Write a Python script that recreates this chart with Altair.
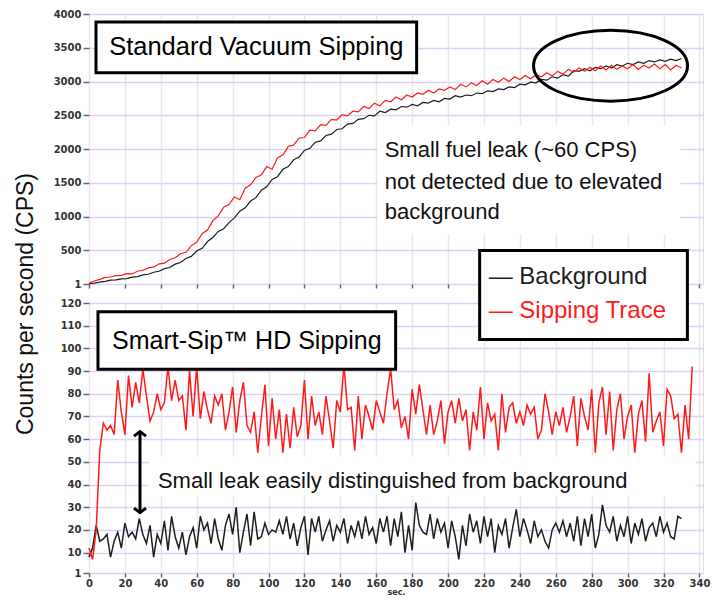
import altair as alt
import pandas as pd

# ---------------- data ----------------
top_step = 3  # seconds between samples, upper panel
top_background = [5, 15, 30, 40, 58, 62, 78, 82, 103, 110,
                  135, 145, 175, 190, 228, 245, 295, 320, 380, 410,
                  490, 530, 630, 690, 780, 820, 910, 980, 1080, 1130,
                  1230, 1280, 1390, 1440, 1550, 1590, 1700, 1740, 1840, 1880,
                  1980, 2010, 2100, 2120, 2200, 2220, 2290, 2300, 2370, 2380,
                  2440, 2450, 2500, 2490, 2560, 2540, 2590, 2580, 2630, 2620,
                  2660, 2640, 2690, 2680, 2720, 2700, 2750, 2740, 2790, 2770,
                  2800, 2790, 2830, 2820, 2860, 2850, 2890, 2880, 2920, 2910,
                  2960, 2950, 2990, 2980, 3030, 3020, 3070, 3050, 3100, 3080,
                  3160, 3150, 3190, 3160, 3210, 3190, 3230, 3200, 3250, 3230,
                  3270, 3250, 3290, 3270, 3310, 3290, 3320, 3300, 3330, 3310, 3340]
top_sipping = [15, 45, 70, 100, 105, 125, 130, 155, 150, 190,
               205, 240, 250, 300, 310, 365, 390, 450, 470, 570,
               620, 745, 800, 940, 1010, 1140, 1180, 1290, 1250, 1420,
               1470, 1580, 1620, 1740, 1700, 1870, 1910, 2040, 2060, 2160,
               2170, 2280, 2270, 2360, 2350, 2440, 2430, 2510, 2490, 2560,
               2550, 2630, 2600, 2680, 2640, 2720, 2700, 2770, 2730, 2800,
               2770, 2830, 2810, 2870, 2830, 2890, 2870, 2920, 2880, 2960,
               2920, 2980, 2940, 3010, 2960, 3030, 2990, 3050, 3000, 3070,
               3030, 3090, 3040, 3100, 3070, 3130, 3080, 3150, 3110, 3180,
               3140, 3200, 3150, 3210, 3160, 3230, 3170, 3240, 3180, 3230,
               3190, 3250, 3180, 3240, 3200, 3260, 3190, 3250, 3170, 3240, 3200]

bot_step = 2  # seconds between samples, lower panel
bot_background = [8, 12, 22, 15, 16, 18, 8, 15, 19, 12,
                  23, 17, 19, 16, 25, 18, 14, 22, 8, 18,
                  14, 24, 11, 26, 17, 12, 19, 9, 17, 21,
                  12, 26, 20, 23, 14, 25, 16, 11, 22, 27,
                  18, 30, 10, 19, 27, 13, 28, 16, 17, 23,
                  18, 20, 19, 24, 18, 26, 16, 23, 13, 21,
                  26, 9, 25, 19, 26, 15, 20, 24, 15, 22,
                  19, 25, 14, 22, 17, 24, 16, 26, 18, 21,
                  14, 25, 19, 26, 13, 25, 17, 28, 10, 22,
                  11, 32, 22, 19, 18, 27, 16, 25, 19, 23,
                  12, 24, 17, 7, 22, 13, 27, 19, 24, 14,
                  26, 17, 25, 10, 22, 18, 25, 12, 21, 29,
                  17, 25, 20, 14, 24, 17, 20, 15, 12, 20,
                  23, 19, 24, 17, 23, 15, 26, 13, 25, 17,
                  27, 12, 18, 31, 22, 19, 26, 15, 22, 17,
                  26, 14, 23, 18, 25, 15, 21, 23, 17, 26,
                  19, 23, 17, 16, 26, 25]
bot_sipping = [12, 7, 20, 55, 67, 64, 66, 62, 86, 72,
               62, 88, 74, 85, 76, 91, 79, 68, 72, 80,
               73, 76, 92, 77, 86, 77, 79, 64, 90, 70,
               92, 69, 81, 73, 67, 79, 75, 80, 64, 72,
               83, 63, 77, 85, 66, 63, 72, 54, 70, 84,
               57, 78, 60, 73, 54, 71, 56, 74, 61, 66,
               86, 60, 79, 66, 72, 62, 79, 68, 56, 77,
               72, 93, 73, 74, 55, 79, 60, 75, 70, 64,
               77, 72, 67, 80, 91, 73, 77, 65, 70, 60,
               82, 71, 84, 73, 62, 75, 62, 68, 77, 58,
               72, 77, 67, 78, 68, 73, 55, 72, 64, 83,
               60, 76, 68, 71, 55, 80, 63, 74, 76, 67,
               72, 66, 75, 71, 74, 60, 64, 80, 72, 62,
               72, 66, 74, 63, 70, 79, 57, 78, 70, 64,
               82, 54, 76, 83, 62, 81, 55, 73, 80, 60,
               70, 75, 54, 71, 77, 59, 89, 63, 68, 72,
               57, 82, 79, 69, 71, 54, 75, 60, 92]

series_names = ["Background", "Sipping Trace"]
series_colors = ["#1e1e1e", "#ff1a1a"]
x_ticks = list(range(0, 341, 20))
top_y_ticks = [1, 500, 1000, 1500, 2000, 2500, 3000, 3500, 4000]
bot_y_ticks = [1, 10, 20, 30, 40, 50, 60, 70, 80, 90, 100, 110, 120]

FONT = "Liberation Sans, Arial, sans-serif"
TICKFONT = "DejaVu Sans"


def long_frame(bg, sp, step):
    rows = []
    for name, vals in zip(series_names, [bg, sp]):
        for i, v in enumerate(vals):
            rows.append({"t": i * step, "cps": v, "series": name})
    return pd.DataFrame(rows)


top_df = long_frame(top_background, top_sipping, top_step)
bot_df = long_frame(bot_background, bot_sipping, bot_step)

W, H = 614, 270
xscale = alt.Scale(domain=[0, 342], nice=False, zero=False)
top_yscale = alt.Scale(domain=[1, 4000], nice=False, zero=False)
bot_yscale = alt.Scale(domain=[1, 120], nice=False, zero=False)
color = alt.Color("series:N", scale=alt.Scale(domain=series_names, range=series_colors), legend=None)


def y_axis(vals):
    return alt.Axis(values=vals, title=None, grid=True, gridColor="#d9d3f7", gridWidth=1.5,
                    format="d", labelOverlap=False, labelSeparation=0,
                    labelFont=TICKFONT, labelFontWeight="bold", labelFontSize=10,
                    labelColor="#333333", tickColor="#666666", tickSize=6, tickWidth=1.5,
                    labelPadding=2, domain=False)


top_xaxis = alt.Axis(values=x_ticks, labels=False, title=None, grid=True, gridColor="#e8e8e8",
                     gridWidth=1.5, tickColor="#666666", tickSize=4, tickWidth=1.5, domain=False)
bot_xaxis = alt.Axis(values=x_ticks, title="sec.", grid=True, gridColor="#e8e8e8", gridWidth=1.5,
                     tickColor="#666666", tickSize=4, tickWidth=1.5, domain=False,
                     format="d", labelOverlap=False, labelSeparation=0, labelFlush=False,
                     labelFont=TICKFONT, labelFontWeight="bold", labelFontSize=10,
                     labelColor="#333333", labelPadding=1,
                     titleFont=TICKFONT, titleFontWeight="bold", titleFontSize=8,
                     titleColor="#333333", titlePadding=0)

top_yaxis = y_axis(top_y_ticks)
bot_yaxis = y_axis(bot_y_ticks)


def ax(field, scale, axis):
    # every layer of a panel carries the same scale and axis definition
    return alt.X(field, type="quantitative", scale=scale, axis=axis)


def ay(field, scale, axis):
    return alt.Y(field, type="quantitative", scale=scale, axis=axis)


# ---------------- upper panel ----------------
TX = dict(scale=xscale, axis=top_xaxis)
TY = dict(scale=top_yscale, axis=top_yaxis)

top_lines = alt.Chart(top_df).mark_line(strokeWidth=1.2).encode(
    x=ax("t", **TX), y=ay("cps", **TY), color=color, detail="series:N")

top_note_bg = pd.DataFrame({"x": [160.8], "x2": [329.4], "y": [2352], "y2": [735]})
top_note_rect = alt.Chart(top_note_bg).mark_rect(fill="white").encode(
    x=ax("x", **TX), x2="x2:Q", y=ay("y", **TY), y2="y2:Q")

top_box = pd.DataFrame({"x": [3.9], "x2": [182.5], "y": [3881], "y2": [3131]})
top_box_rect = alt.Chart(top_box).mark_rect(fill="white", stroke="black", strokeWidth=3).encode(
    x=ax("x", **TX), x2="x2:Q", y=ay("y", **TY), y2="y2:Q")
top_title = pd.DataFrame({"x": [93.2], "y": [3513], "label": ["Standard Vacuum Sipping"]})
top_title_text = alt.Chart(top_title).mark_text(font=FONT, fontSize=25.5, color="black",
                                                align="center", baseline="middle").encode(
    x=ax("x", **TX), y=ay("y", **TY), text="label:N")

top_note = pd.DataFrame({"x": [164.7, 164.7, 164.7], "y": [1985, 1514, 1073],
                         "label": ["Small fuel leak (~60 CPS)", "not detected due to elevated",
                                   "background"]})
top_note_text = alt.Chart(top_note).mark_text(font=FONT, fontSize=22, color="#111111",
                                              align="left", baseline="middle").encode(
    x=ax("x", **TX), y=ay("y", **TY), text="label:N")

ellipse = pd.DataFrame({"x": [290.5], "y": [3234]})
ELLIPSE_PATH = ("M -1 0 C -1 -0.254 -0.552 -0.46 0 -0.46 C 0.552 -0.46 1 -0.254 1 0 "
                "C 1 0.254 0.552 0.46 0 0.46 C -0.552 0.46 -1 0.254 -1 0 Z")
ellipse_mark = alt.Chart(ellipse).mark_point(
    shape=ELLIPSE_PATH, size=154 * 154, filled=False, stroke="black", strokeWidth=3,
    opacity=1).encode(x=ax("x", **TX), y=ay("y", **TY))

top = alt.layer(top_note_rect, top_lines, top_box_rect, top_title_text, top_note_text,
                ellipse_mark).properties(width=W, height=H)

# ---------------- lower panel ----------------
BX = dict(scale=xscale, axis=bot_xaxis)
BY = dict(scale=bot_yscale, axis=bot_yaxis)

bot_lines = alt.Chart(bot_df).mark_line(strokeWidth=1.5).encode(
    x=ax("t", **BX), y=ay("cps", **BY), color=color, detail="series:N")

bot_note_bg = pd.DataFrame({"x": [33.4], "x2": [337.8], "y": [52.4], "y2": [35.0]})
bot_note_rect = alt.Chart(bot_note_bg).mark_rect(fill="white").encode(
    x=ax("x", **BX), x2="x2:Q", y=ay("y", **BY), y2="y2:Q")

bot_box = pd.DataFrame({"x": [5.0], "x2": [170.8], "y": [116.1], "y2": [90.8]})
bot_box_rect = alt.Chart(bot_box).mark_rect(fill="white", stroke="black", strokeWidth=3).encode(
    x=ax("x", **BX), x2="x2:Q", y=ay("y", **BY), y2="y2:Q")
bot_title = pd.DataFrame({"x": [87.9], "y": [103.4], "label": ["Smart-Sip™ HD Sipping"]})
bot_title_text = alt.Chart(bot_title).mark_text(font=FONT, fontSize=25, color="black",
                                                align="center", baseline="middle").encode(
    x=ax("x", **BX), y=ay("y", **BY), text="label:N")

bot_note = pd.DataFrame({"x": [38.4], "y": [41.5],
                         "label": ["Small leak easily distinguished from background"]})
bot_note_text = alt.Chart(bot_note).mark_text(font=FONT, fontSize=22, color="#111111",
                                              align="left", baseline="middle").encode(
    x=ax("x", **BX), y=ay("y", **BY), text="label:N")

arrow = pd.DataFrame({"x": [28.4], "y": [27.6], "y2": [63.3]})
arrow_rule = alt.Chart(arrow).mark_rule(color="black", strokeWidth=3).encode(
    x=ax("x", **BX), y=ay("y", **BY), y2="y2:Q")
arrow_heads = pd.DataFrame({"x": [28.4, 28.4], "y": [63.3, 27.6], "dir": ["up", "down"]})
head_up = alt.Chart(arrow_heads).transform_filter(alt.datum.dir == "up").mark_point(
    shape="M -1 0.75 L 0 0 L 1 0.75", size=144, filled=False, stroke="black",
    strokeWidth=3, opacity=1).encode(x=ax("x", **BX), y=ay("y", **BY))
head_down = alt.Chart(arrow_heads).transform_filter(alt.datum.dir == "down").mark_point(
    shape="M -1 -0.75 L 0 0 L 1 -0.75", size=144, filled=False, stroke="black",
    strokeWidth=3, opacity=1).encode(x=ax("x", **BX), y=ay("y", **BY))

legend_box = pd.DataFrame({"x": [217.6], "x2": [333.3], "y": [143.1], "y2": [103.9]})
legend_rect = alt.Chart(legend_box).mark_rect(fill="white", stroke="black", strokeWidth=3).encode(
    x=ax("x", **BX), x2="x2:Q", y=ay("y", **BY), y2="y2:Q")
legend_items = pd.DataFrame({"x": [222.6, 222.6], "y": [131.3, 116.5],
                             "label": ["— " + s for s in series_names], "series": series_names})
legend_text = alt.Chart(legend_items).mark_text(font=FONT, fontSize=24, align="left",
                                                baseline="middle").encode(
    x=ax("x", **BX), y=ay("y", **BY), text="label:N", color=color)

ytitle = pd.DataFrame({"label": ["Counts per second (CPS)"]})
ytitle_text = alt.Chart(ytitle).mark_text(font=FONT, fontSize=23, angle=270, color="#111111",
                                          align="center", baseline="middle").encode(
    x=alt.value(-63), y=alt.value(1), text="label:N")

bot = alt.layer(bot_note_rect, bot_lines, bot_box_rect, bot_title_text, bot_note_text,
                arrow_rule, head_up, head_down, legend_rect, legend_text,
                ytitle_text).properties(width=W, height=H)

chart = alt.vconcat(top, bot, spacing=19, bounds="flush").properties(
    padding={"left": 6, "top": 0, "right": 0, "bottom": 0}
).configure_view(stroke="#8a8a8a", strokeWidth=2).configure_axis(
    labelOverlap=False
).configure(background="white")

chart.save("out.html", embed_options={"renderer": "svg", "actions": False})
